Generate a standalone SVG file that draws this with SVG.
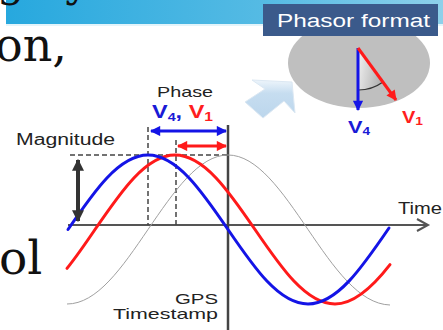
<svg xmlns="http://www.w3.org/2000/svg" width="443" height="330" viewBox="0 0 443 330">
<defs>
<linearGradient id="band" x1="0" y1="0" x2="1" y2="0">
<stop offset="0" stop-color="#27a8de"/>
<stop offset="0.6" stop-color="#56bbe4"/>
<stop offset="1" stop-color="#8ed0ea"/>
</linearGradient>
<linearGradient id="wedge" x1="0" y1="0" x2="1" y2="0.3">
<stop offset="0" stop-color="#f4f4f4"/>
<stop offset="1" stop-color="#b4b4b4"/>
</linearGradient>
<linearGradient id="bigArrow" x1="0" y1="0" x2="0" y2="1">
<stop offset="0" stop-color="#eef5fb"/>
<stop offset="0.35" stop-color="#c6ddf0"/>
<stop offset="1" stop-color="#bcd6ec"/>
</linearGradient>
<marker id="hb" viewBox="0 0 10 10" refX="9" refY="5" markerWidth="4" markerHeight="3.4" orient="auto-start-reverse" markerUnits="strokeWidth">
<path d="M0,0 L10,5 L0,10 z" fill="#1414e6"/>
</marker>
<marker id="hr" viewBox="0 0 10 10" refX="9" refY="5" markerWidth="4" markerHeight="3.4" orient="auto-start-reverse" markerUnits="strokeWidth">
<path d="M0,0 L10,5 L0,10 z" fill="#ff1a1a"/>
</marker>
<marker id="hk" viewBox="0 0 10 10" refX="9" refY="5" markerWidth="3" markerHeight="3" orient="auto-start-reverse" markerUnits="strokeWidth">
<path d="M0,0 L10,5 L0,10 z" fill="#333"/>
</marker>
</defs>
<style>
.sans{font-family:"Liberation Sans",Arial,sans-serif}
.serif{font-family:"DejaVu Serif","Liberation Serif",serif;fill:#111}
.dash{stroke:#444;stroke-width:1.5;stroke-dasharray:5 3;fill:none}
.wave{fill:none;stroke-width:3;stroke-linecap:round}
.thin{fill:none;stroke:#a0a0a0;stroke-width:1}
.blue{fill:#1a1ad6}
.red{fill:#ff1e1e}
</style>

<g id="background">
<rect x="6" y="-2" width="437" height="26" fill="url(#band)"/>
<rect x="6" y="24" width="437" height="2" fill="#e3f4fa"/>
<text class="serif" x="-3" y="-4" font-size="44">g<tspan dx="40">y</tspan></text>
<text class="serif" x="-5" y="61" font-size="46">on,</text>
<text class="serif" x="-1" y="274" font-size="47">ol</text>
</g>

<g id="phasor">
<ellipse cx="359" cy="63" rx="71" ry="45" fill="#bfbfbf"/>
<path d="M358,48 L358,90 A42,42 0 0 0 383,82 Z" fill="url(#wedge)"/>
<path d="M358,90 A42,42 0 0 0 383,82" fill="none" stroke="#333" stroke-width="1.2"/>
<line x1="358" y1="48" x2="358" y2="110" stroke="#1414e6" stroke-width="3" marker-end="url(#hb)"/>
<line x1="358" y1="48" x2="396" y2="100" stroke="#ff1a1a" stroke-width="3" marker-end="url(#hr)"/>
<text class="sans blue" x="348" y="133" font-size="16" font-weight="bold" textLength="22" lengthAdjust="spacingAndGlyphs">V<tspan font-size="10" dy="2">4</tspan></text>
<text class="sans red" x="402" y="123" font-size="16" font-weight="bold" textLength="21" lengthAdjust="spacingAndGlyphs">V<tspan font-size="11" dy="2">1</tspan></text>
</g>

<g id="phasor-title">
<rect x="263" y="4" width="175" height="32" fill="#3b5a8b"/>
<text class="sans" x="277" y="27" font-size="18" fill="#fff" textLength="153" lengthAdjust="spacingAndGlyphs">Phasor format</text>
</g>

<g id="transform-arrow">
<polygon points="252,80 292,82 295,113 284,101 263,118 245,102 265,89" fill="url(#bigArrow)" stroke="#dce8f3" stroke-width="1"/>
</g>

<g id="connectors">
<line x1="68" y1="225" x2="427" y2="225" stroke="#555" stroke-width="2"/>
<polyline points="417,219 428,225 417,231" fill="none" stroke="#555" stroke-width="2"/>
<line x1="228" y1="125" x2="228" y2="330" stroke="#444" stroke-width="2.5"/>
<line class="dash" x1="70" y1="155" x2="228" y2="155"/>
<line class="dash" x1="148" y1="127" x2="148" y2="225"/>
<line class="dash" x1="176" y1="140" x2="176" y2="225"/>
<line x1="151" y1="131" x2="226" y2="131" stroke="#1414e6" stroke-width="3" marker-start="url(#hb)" marker-end="url(#hb)"/>
<line x1="178" y1="146" x2="226" y2="146" stroke="#ff1a1a" stroke-width="3" marker-start="url(#hr)" marker-end="url(#hr)"/>
</g>

<g id="waves">
<path class="thin" d="M67,304 C97,304 121.9,267.7 148,229.5 C174.1,191.3 199,155 228,155 C257,155 281.9,191.3 308,229.5 C334.1,267.7 359,304 390,305"/>
<path class="wave" stroke="#ff1a1a" d="M67,268.4 C76.3,256.8 85.7,243.2 95,229.5 C121.1,191.3 146,155 175,155 C204,155 228.9,191.3 255,229.5 C281.1,267.7 306,304 335,304 C353.3,304 371.7,288.2 390,264.6"/>
<path class="wave" stroke="#1414e6" d="M68,229.5 C94.1,191.3 119,155 148,155 C177,155 201.9,191.3 228,229.5 C254.1,267.7 279,304 308,304 C337,304 361.9,267.7 389,228"/>
</g>

<g id="magnitude">
<line x1="78" y1="160" x2="78" y2="221" stroke="#333" stroke-width="4" marker-start="url(#hk)" marker-end="url(#hk)"/>
<text class="sans" x="16" y="145" font-size="16" fill="#222" textLength="99" lengthAdjust="spacingAndGlyphs">Magnitude</text>
</g>

<g id="phase-label">
<text class="sans" x="157" y="97" font-size="15" fill="#222" textLength="56" lengthAdjust="spacingAndGlyphs">Phase</text>
<text class="sans" x="152" y="118" font-size="18" font-weight="bold" textLength="61" lengthAdjust="spacingAndGlyphs"><tspan class="blue">V</tspan><tspan class="blue" font-size="11" dy="3">4</tspan><tspan class="blue" dy="-3">, </tspan><tspan class="red">V</tspan><tspan class="red" font-size="12" dy="3">1</tspan></text>
</g>

<g id="time-label">
<text class="sans" x="398" y="214" font-size="16" fill="#222" textLength="44" lengthAdjust="spacingAndGlyphs">Time</text>
</g>

<g id="gps-label">
<text class="sans" x="218" y="304" font-size="15" fill="#222" text-anchor="end" textLength="43" lengthAdjust="spacingAndGlyphs">GPS</text>
<text class="sans" x="218" y="319" font-size="15" fill="#222" text-anchor="end" textLength="105" lengthAdjust="spacingAndGlyphs">Timestamp</text>
</g>
</svg>
